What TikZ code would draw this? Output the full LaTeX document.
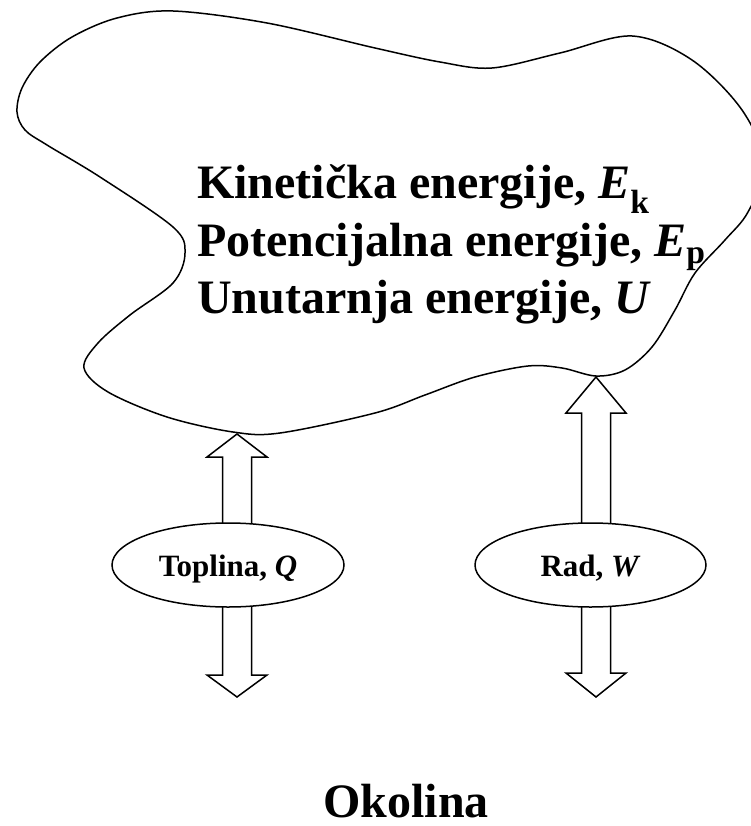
\documentclass[tikz,border=0pt]{standalone}
\usepackage{fontspec}
\setmainfont{Liberation Serif}
\usetikzlibrary{shapes.geometric,calc}
\tikzset{
  outline/.style={draw=black, line width=1.5pt, line join=round},
  bigtext/.style={font=\fontsize{48}{57}\selectfont\bfseries, inner sep=0pt, anchor=base west},
  flowellipse/.style={ellipse, draw=black, line width=1.5pt, fill=white, inner sep=0pt,
    minimum width=232pt, minimum height=84pt, text height=22pt, text depth=0pt,
    font=\fontsize{31}{36}\selectfont\bfseries},
  blockarrow/.style={draw=black, line width=1.5pt, fill=white, line join=miter},
}
\begin{document}
\begin{tikzpicture}[x=1pt,y=-1pt]
\useasboundingbox (0,0) rectangle (751,826);
\clip (0,0) rectangle (751,826);

% system boundary
\draw[outline] plot[smooth cycle, tension=0.55] coordinates {
  (22,88) (40,62) (72,37) (117,18) (173,11) (267,23) (375,48) (440,62) (492,68)
  (560,53) (632,36) (692,60) (742,110) (765,165) (748,212) (725,240) (695,273)
  (675,310) (652,347) (625,370) (596,376) (562,368) (528,366) (475,377) (425,395)
  (375,413) (280,433) (233,432) (167,417) (108,392) (84,368) (98,343) (130,315)
  (173,283) (185,253) (173,227) (100,177) (47,145) (25,130) (17,112)};

% texts inside the system
\node[bigtext] (ek) at (197,199) {Kinetička energije, \textit{E}\textsubscript{k}};
\node[bigtext] (ep) at (197,256) {Potencijalna energije, \textit{E}\textsubscript{p}};
\node[bigtext] (eu) at (197,313) {Unutarnja energije, \textit{U}};

% tips of arrows on the boundary
\coordinate (tq) at (237,434);
\coordinate (tw) at (596,377);
\coordinate (bq) at (237,697);
\coordinate (bw) at (596,697);

% block arrows
\draw[blockarrow] ($(tq)+(-14.5,96)$) -- ($(tq)+(-14.5,23)$) -- ($(tq)+(-30,23)$) -- (tq)
  -- ($(tq)+(30,23)$) -- ($(tq)+(14.5,23)$) -- ($(tq)+(14.5,96)$) -- cycle;
\draw[blockarrow] ($(bq)+(-14.5,-97)$) -- ($(bq)+(-14.5,-22)$) -- ($(bq)+(-30,-22)$) -- (bq)
  -- ($(bq)+(30,-22)$) -- ($(bq)+(14.5,-22)$) -- ($(bq)+(14.5,-97)$) -- cycle;
\draw[blockarrow] ($(tw)+(-14.5,153)$) -- ($(tw)+(-14.5,36)$) -- ($(tw)+(-30,36)$) -- (tw)
  -- ($(tw)+(30,36)$) -- ($(tw)+(14.5,36)$) -- ($(tw)+(14.5,153)$) -- cycle;
\draw[blockarrow] ($(bw)+(-14.5,-97)$) -- ($(bw)+(-14.5,-24)$) -- ($(bw)+(-30,-24)$) -- (bw)
  -- ($(bw)+(30,-24)$) -- ($(bw)+(14.5,-24)$) -- ($(bw)+(14.5,-97)$) -- cycle;

% ellipses
\node[flowellipse] (q) at (228,565) {Toplina, \textit{Q}};
\node[flowellipse, minimum width=231pt] (w) at (590.5,565) {Rad, \textit{W}};

% surroundings
\node[font=\fontsize{48}{57}\selectfont\bfseries, inner sep=0pt, text depth=0pt, anchor=base] (ok) at (406,817) {Okolina};
\end{tikzpicture}
\end{document}
